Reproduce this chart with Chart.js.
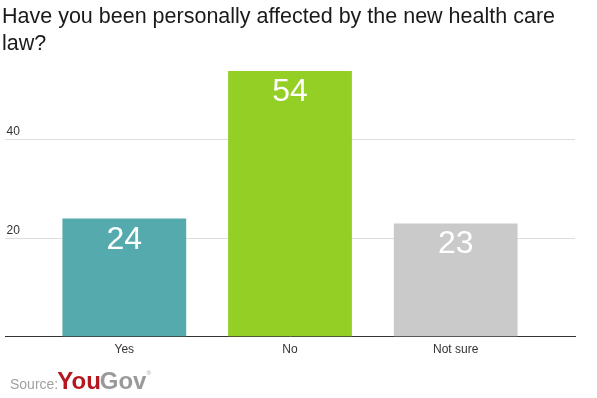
<!DOCTYPE html>
<html lang="en">
<head>
  <meta charset="UTF-8">
  <title>Personally affected by the new health care law</title>
  <script src="https://cdn.jsdelivr.net/npm/chart.js"></script>
  <style>
    body {
      margin: 0;
      padding: 0;
      background: #ffffff;
    }
    #wrap {
      width: 597px;
      height: 398px;
    }
  </style>
</head>
<body>
  <div id="wrap">
    <canvas id="chart" width="597" height="398"></canvas>
  </div>

  <script>
    const titleLines = ['Have you been personally affected by the new health care', 'law?'];
    const categories = ['Yes', 'No', 'Not sure'];
    const values = [24, 54, 23];
    const barColors = ['#55aaae', '#93cf24', '#cacaca'];
    const yTicks = [20, 40];

    const FONT = "'Liberation Sans', Arial, sans-serif";

    // white value inside each bar, near the top
    const valueLabels = {
      id: 'valueLabels',
      afterDatasetsDraw(chart) {
        const ctx = chart.ctx;
        const meta = chart.getDatasetMeta(0);
        ctx.save();
        ctx.fillStyle = '#ffffff';
        ctx.font = '32px ' + FONT;
        ctx.textAlign = 'center';
        ctx.textBaseline = 'alphabetic';
        meta.data.forEach((bar, i) => {
          ctx.fillText(String(values[i]), bar.x, bar.y + 30);
        });
        ctx.restore();
      }
    };

    // "Source: YouGov" footer
    const sourceFooter = {
      id: 'sourceFooter',
      afterDraw(chart) {
        const ctx = chart.ctx;
        ctx.save();
        ctx.textBaseline = 'alphabetic';
        ctx.textAlign = 'left';
        ctx.font = '14px ' + FONT;
        ctx.fillStyle = '#a0a0a0';
        ctx.fillText('Source:', 10, 389);
        let x = 9 + ctx.measureText('Source:').width;
        ctx.font = 'bold 24px ' + FONT;
        ctx.fillStyle = '#b5171f';
        ctx.fillText('You', x, 389);
        x += ctx.measureText('You').width - 1;
        ctx.fillStyle = '#9a9a9a';
        ctx.fillText('Gov', x, 389);
        x += ctx.measureText('Gov').width;
        ctx.font = '6px ' + FONT;
        ctx.fillText('®', x, 375);
        ctx.restore();
      }
    };

    new Chart(document.getElementById('chart'), {
      type: 'bar',
      data: {
        datasets: [{
          data: values.map((v, i) => ({ x: i + 1, y: v })),
          backgroundColor: barColors,
          borderWidth: 0,
          barPercentage: 0.747,
          categoryPercentage: 1
        }]
      },
      options: {
        responsive: false,
        animation: false,
        layout: {
          padding: { left: 2, right: 22, top: 0, bottom: 35 }
        },
        plugins: {
          legend: { display: false },
          tooltip: { enabled: false },
          title: {
            display: true,
            text: titleLines,
            align: 'start',
            color: '#1a1a1a',
            font: { family: FONT, size: 21.5, weight: 'normal', lineHeight: 1.28 },
            padding: { top: 3, bottom: 5 }
          }
        },
        scales: {
          x: {
            type: 'linear',
            offset: false,
            min: 0.28,
            max: 3.72,
            afterBuildTicks(axis) {
              axis.ticks = categories.map((c, i) => ({ value: i + 1 }));
            },
            grid: { display: false, drawTicks: false },
            border: { display: true, color: '#333333', width: 1 },
            ticks: {
              padding: 6,
              color: '#333333',
              font: { family: FONT, size: 12 },
              callback: (v) => categories[v - 1]
            }
          },
          y: {
            min: 0,
            max: 55.6,
            afterBuildTicks(axis) {
              axis.ticks = yTicks.map(v => ({ value: v }));
            },
            grid: { color: '#dddddd', drawTicks: false },
            border: { display: false },
            ticks: {
              mirror: true,
              padding: 1.5,
              labelOffset: -8,
              color: '#333333',
              font: { family: FONT, size: 12 }
            }
          }
        }
      },
      plugins: [valueLabels, sourceFooter]
    });
  </script>
</body>
</html>
